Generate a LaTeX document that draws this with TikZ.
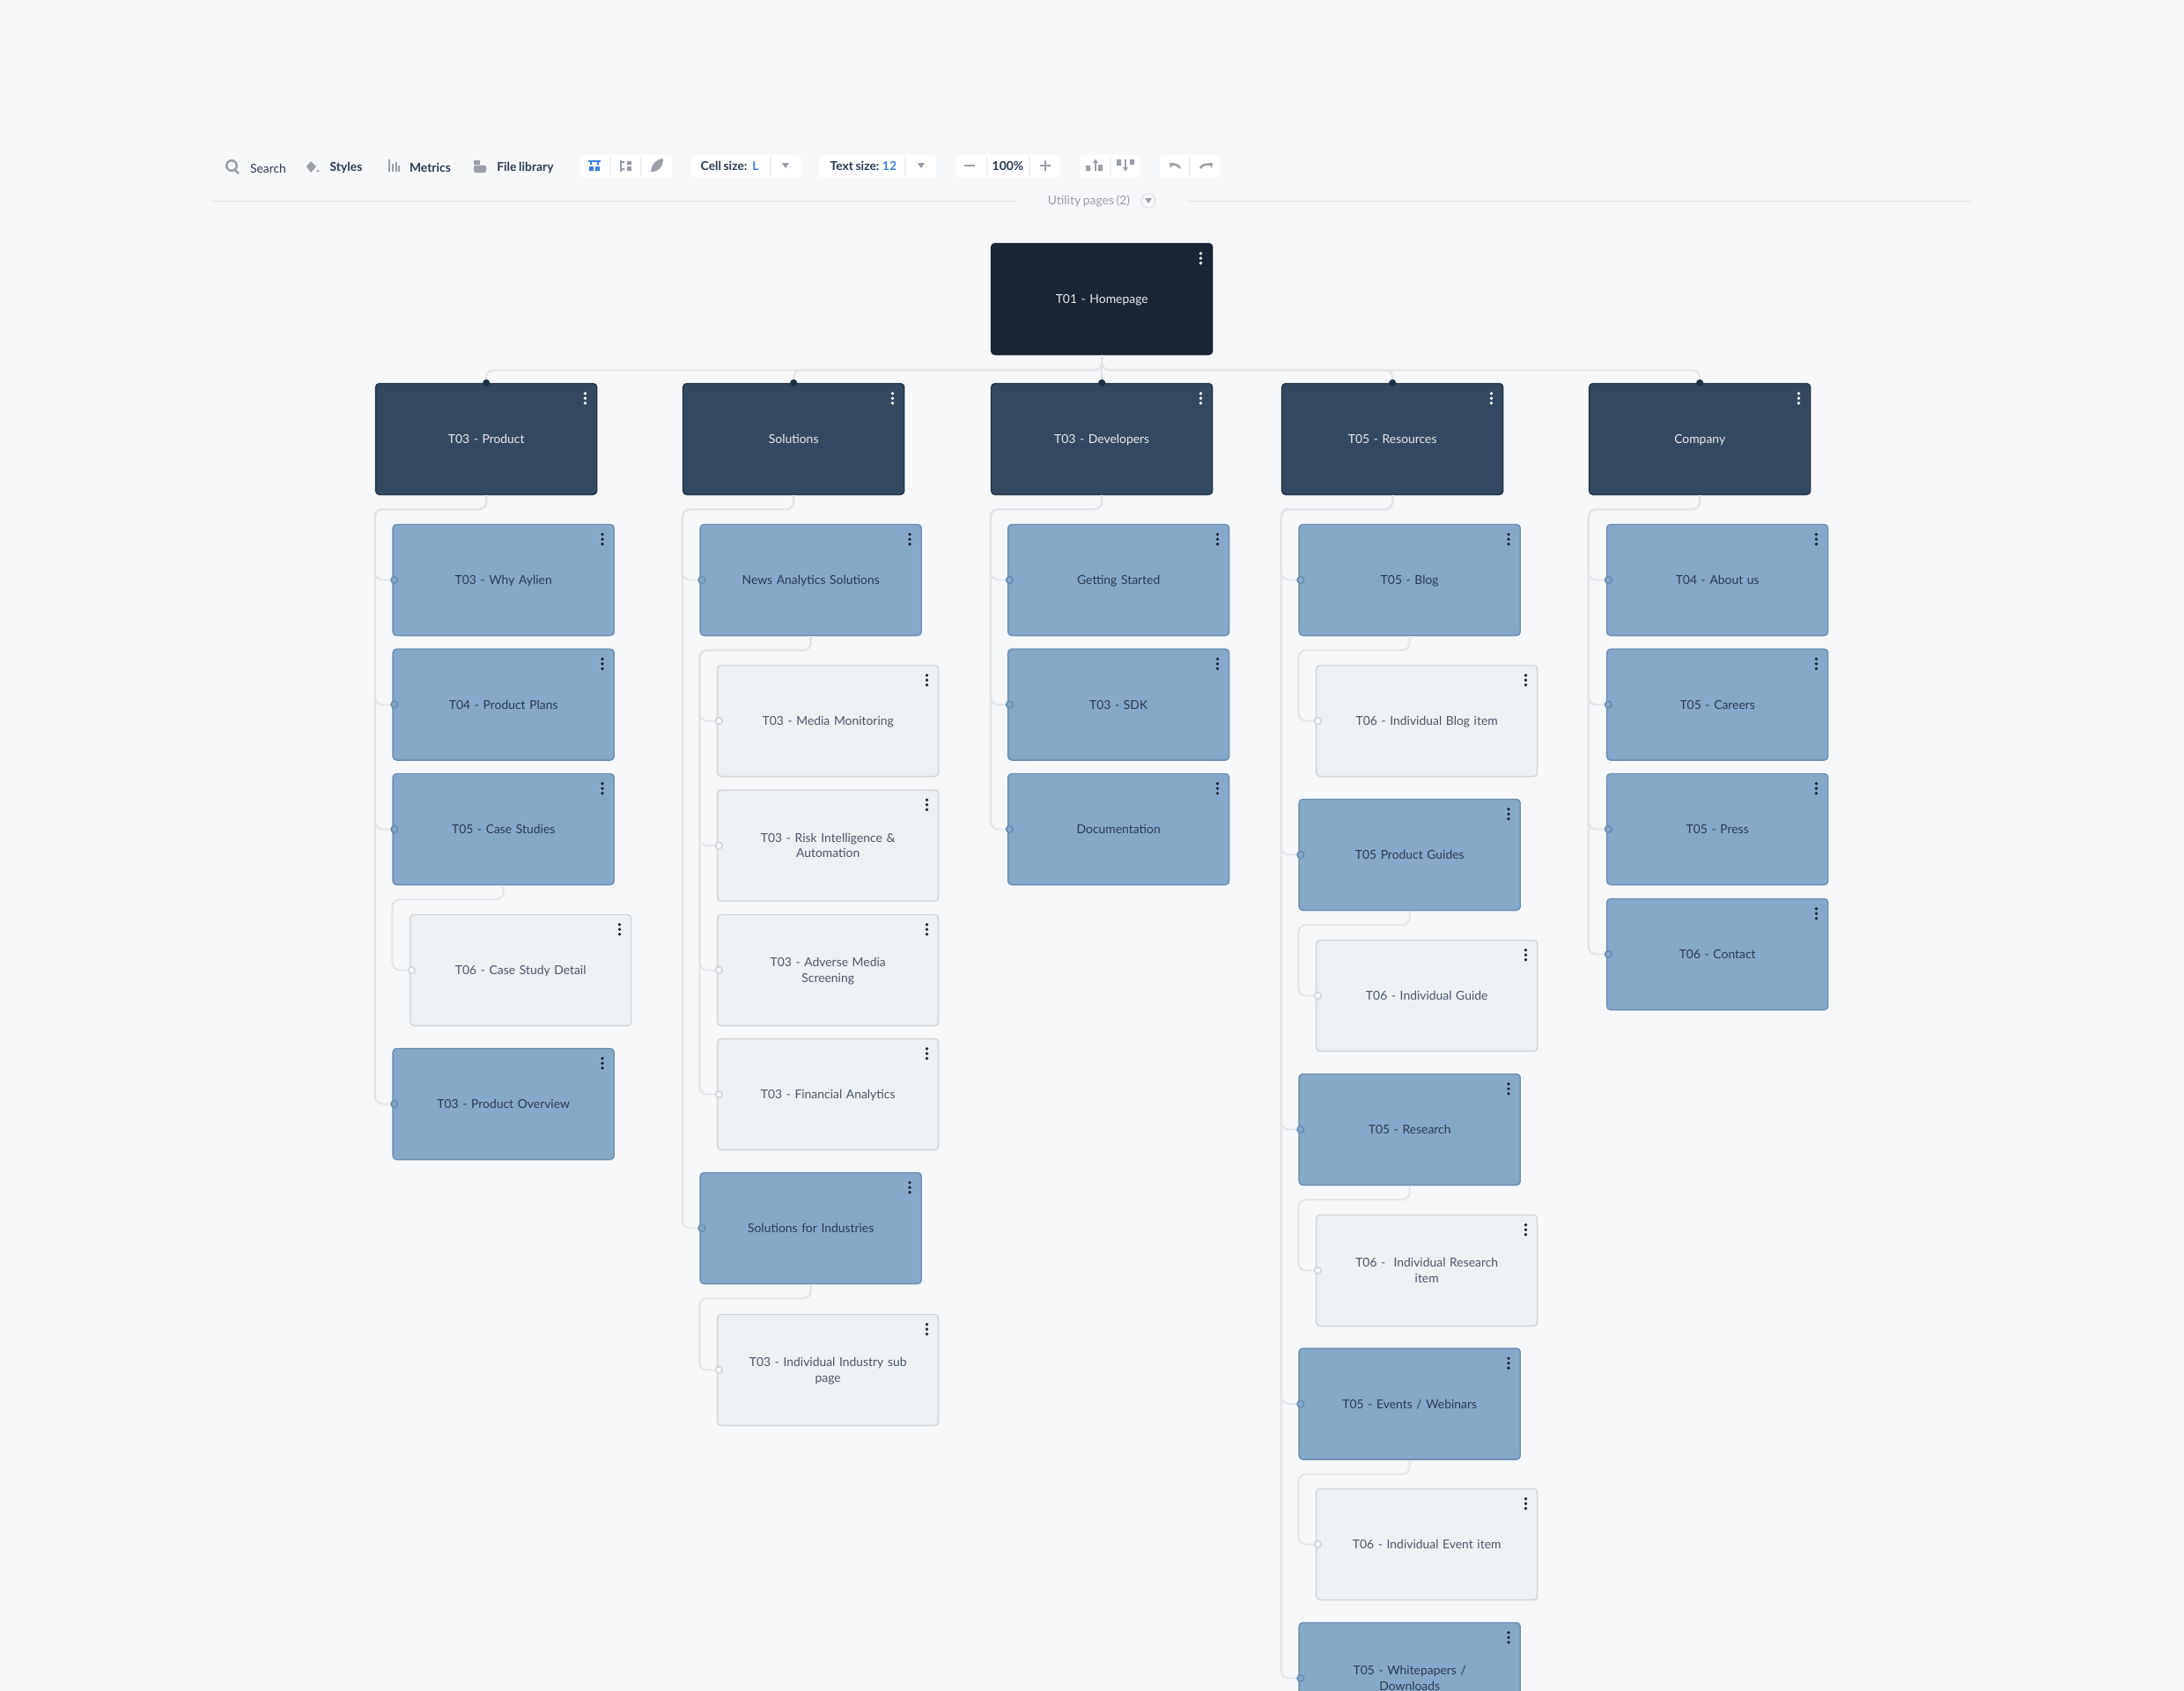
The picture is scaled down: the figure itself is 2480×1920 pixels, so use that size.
\documentclass[tikz,border=0pt]{standalone}
\usepackage{fontspec}
\setmainfont[WordSpace=0.75]{Lato}
\definecolor{bgpage}{HTML}{F7F8FA}
\definecolor{rootfill}{HTML}{1A2534}
\definecolor{darkfill}{HTML}{34495F}
\definecolor{darkline}{HTML}{1F3347}
\definecolor{bluefill}{HTML}{88A8C9}
\definecolor{blueline}{HTML}{6A8DB2}
\definecolor{palefill}{HTML}{EEF1F3}
\definecolor{paleline}{HTML}{D2D6D9}
\definecolor{linkgrey}{HTML}{E3E5E8}
\definecolor{inkdark}{HTML}{2A3A4E}
\definecolor{inkgrey}{HTML}{9A9EA6}
\definecolor{toolblue}{HTML}{3F7FE0}
\newcommand{\cardstrut}{\rule[-1pt]{0pt}{4.85pt}}
\tikzset{
  card/.style={draw,rounded corners=1.2pt,line width=.4pt,minimum width=2.51cm,minimum height=1.26cm,
    align=center,text width=1.95cm,font=\fontsize{3.95}{4.9}\selectfont,inner sep=0pt,
    execute at begin node=\cardstrut,execute at end node=\cardstrut},
  root/.style={card,fill=rootfill,draw=rootfill,text=white!90!rootfill},
  sect/.style={card,fill=darkfill,draw=darkline,text=white!88!darkfill},
  page/.style={card,fill=bluefill,draw=blueline,text=inkdark},
  sub/.style={card,fill=palefill,draw=paleline,text=inkdark!85!white},
  link/.style={draw=linkgrey,line width=.55pt,rounded corners=2.4pt},
  tool/.style={font=\fontsize{3.95}{5}\selectfont,inner sep=0pt,text=inkdark},
  toolb/.style={tool,font=\fontsize{3.95}{5}\selectfont\bfseries},
  group/.style={fill=white,rounded corners=1pt,draw=none},
  icon/.style={fill=inkgrey,draw=none},
}
\begin{document}
\begin{tikzpicture}[x=0.01cm,y=-0.01cm]
  \fill[bgpage] (0,0) rectangle (2480,1920);
  \useasboundingbox (0,0) rectangle (2480,1920);
  \clip (0,0) rectangle (2480,1920);

  % toolbar
  \foreach \xa/\xb in {658/763,785/910,930/1063,1085/1203,1226/1295,1317/1386}
    \fill[group] (\xa,176) rectangle (\xb,202);
  \foreach \xa in {693,728,875,1028,1121,1169,1261,1351}
    \draw[linkgrey!60!white,line width=.3pt] (\xa,178) -- (\xa,200);
  \draw[linkgrey,line width=.5pt] (239,228.5) -- (1154,228.5);
  \draw[linkgrey,line width=.5pt] (1347,228.5) -- (2240,228.5);

  \node[tool] (search) at (304.5,191) {Search};
  \node[toolb] (styles) at (393,190) {Styles};
  \node[toolb] (metrics) at (488.5,190) {Metrics};
  \node[toolb] (files) at (596.5,190) {File library};
  \node[toolb,anchor=west] (cellsize) at (795,188) {Cell size:};
  \node[toolb,text=toolblue] (cellval) at (858,188) {L};
  \node[toolb,anchor=west] (textsize) at (942,188) {Text size:};
  \node[toolb,text=toolblue] (textval) at (1010,188) {12};
  \node[toolb] (zoomval) at (1144.5,188) {100\%};
  \node[tool,text=inkgrey] (utility) at (1236.5,228) {Utility pages (2)};

  % left icons
  \draw[inkgrey,line width=.7pt] (263,188) circle (5.8) (267,193) -- (271,197);
  \fill[icon] (348,189) -- (353,183) -- (359,189) -- (353,196) -- cycle;
  \fill[icon] (361,194) circle (1.5);
  \foreach \xa/\h in {441/14,445/9,449/11,452/7}
    \fill[icon] (\xa,195-\h) rectangle ++(1.8,\h);
  \fill[icon] (538,182) rectangle (545,187);
  \fill[icon,rounded corners=.5pt] (538,187.5) rectangle (552,196);

  % view icons
  \fill[toolblue] (668,182) rectangle (682,184);
  \fill[toolblue] (670,184) rectangle (672,187) (678,184) rectangle (680,187);
  \fill[toolblue] (669,189) rectangle (674,194) (676,189) rectangle (681,194);
  \fill[icon] (704,182) rectangle (706,195) (704,183) rectangle (709,185) (704,191) rectangle (709,193);
  \fill[icon] (712,183) rectangle (717,187) (712,189) rectangle (717,194);
  \fill[icon] (739,195) .. controls (740,186) and (745,181) .. (753,180) .. controls (753,190) and (748,195) .. (739,195);

  % carets
  \foreach \xa/\ya in {892/188,1046/188,1304/228}
    \fill[icon] (\xa-4,\ya-3) -- (\xa+4,\ya-3) -- (\xa,\ya+3) -- cycle;
  \draw[linkgrey,line width=.4pt] (1304,228) circle (8);

  % zoom and arrange
  \draw[inkgrey,line width=.6pt] (1095,188) -- (1107,188);
  \draw[inkgrey,line width=.4pt] (1181,188) -- (1193,188) (1187,182) -- (1187,194);
  \fill[icon] (1233,188) rectangle (1238,194) (1247,187) rectangle (1252,194);
  \draw[inkgrey,line width=.5pt] (1244,194) -- (1244,183);
  \fill[icon] (1241,185) -- (1244,180.5) -- (1247,185) -- cycle;
  \fill[icon] (1268,181) rectangle (1273,188) (1283,181) rectangle (1288,187);
  \draw[inkgrey,line width=.5pt] (1278,181) -- (1278,192);
  \fill[icon] (1275,190) -- (1278,194.5) -- (1281,190) -- cycle;

  % undo redo
  \draw[inkgrey,line width=.7pt] (1340,191) .. controls (1338,187) and (1334,186) .. (1330,187);
  \fill[icon] (1328,185) -- (1333,185) -- (1329,191) -- cycle;
  \draw[inkgrey,line width=.7pt] (1363,191) .. controls (1365,187) and (1369,186) .. (1374,187);
  \fill[icon] (1377,185) -- (1372,185) -- (1376,191) -- cycle;

  % cards
  \begin{scope}[shift={(0.2,0.5)}]
  \node[root] (home) at (1251,339) {T01 - Homepage};

  \node[sect] (product) at (552,498) {T03 - Product};
  \node[sect] (solutions) at (901,498) {Solutions};
  \node[sect] (developers) at (1251,498) {T03 - Developers};
  \node[sect] (resources) at (1581,498) {T05 - Resources};
  \node[sect] (company) at (1930,498) {Company};

  \node[page] (why) at (571.5,658) {T03 - Why Aylien};
  \node[page] (plans) at (571.5,799.5) {T04 - Product Plans};
  \node[page] (cases) at (571.5,941) {T05 - Case Studies};
  \node[sub] (casedetail) at (591,1101) {T06 - Case Study Detail};
  \node[page] (overview) at (571.5,1253) {T03 - Product Overview};

  \node[page] (news) at (920.5,658) {News Analytics Solutions};
  \node[sub] (media) at (940,818) {T03 - Media Monitoring};
  \node[sub] (risk) at (940,959.5) {T03 - Risk Intelligence \&\\Automation};
  \node[sub] (adverse) at (940,1101) {T03 - Adverse Media\\Screening};
  \node[sub] (financial) at (940,1242) {T03 - Financial Analytics};
  \node[page] (industries) at (920.5,1394) {Solutions for Industries};
  \node[sub] (industry) at (940,1555) {T03 - Individual Industry sub\\page};

  \node[page] (started) at (1270,658) {Getting Started};
  \node[page] (sdk) at (1270,799.5) {T03 - SDK};
  \node[page] (docs) at (1270,941) {Documentation};

  \node[page] (blog) at (1600.5,658) {T05 - Blog};
  \node[sub] (blogitem) at (1620,818) {T06 - Individual Blog item};
  \node[page] (guides) at (1600.5,970) {T05 Product Guides};
  \node[sub] (guideitem) at (1620,1130) {T06 - Individual Guide};
  \node[page] (research) at (1600.5,1282) {T05 - Research};
  \node[sub] (researchitem) at (1620,1442) {T06 -\ \ Individual Research\\item};
  \node[page] (events) at (1600.5,1593.5) {T05 - Events / Webinars};
  \node[sub] (eventitem) at (1620,1753) {T06 - Individual Event item};
  \node[page] (papers) at (1600.5,1905) {T05 - Whitepapers /\\Downloads};

  \node[page] (about) at (1950,658) {T04 - About us};
  \node[page] (careers) at (1950,799.5) {T05 - Careers};
  \node[page] (press) at (1950,941) {T05 - Press};
  \node[page] (contact) at (1950,1083) {T06 - Contact};
  \end{scope}

  % connectors
  \foreach \c in {product,solutions,developers,resources,company}
    \draw[link] (home.south) -- ++(0,17) -| (\c.north);
  \foreach \p/\c in {product/why,product/plans,product/cases,product/overview,cases/casedetail,
      solutions/news,solutions/industries,news/media,news/risk,news/adverse,news/financial,industries/industry,
      developers/started,developers/sdk,developers/docs,
      resources/blog,resources/guides,resources/research,resources/events,resources/papers,
      blog/blogitem,guides/guideitem,research/researchitem,events/eventitem,
      company/about,company/careers,company/press,company/contact}
    \draw[link] (\p.south) -- ++(0,16) -| (\c.west -| \p.west) -- (\c.west);

  % ports
  \foreach \c in {product,solutions,developers,resources,company}
    \filldraw[fill=darkline,draw=darkline,line width=.3pt] (\c.north) circle (3.5);
  \foreach \c in {why,plans,cases,overview,news,industries,started,sdk,docs,blog,guides,research,events,papers,about,careers,press,contact}
    \filldraw[fill=bluefill,draw=blueline,line width=.45pt] ([xshift=.7]\c.west) circle (3.8);
  \foreach \c in {casedetail,media,risk,adverse,financial,industry,blogitem,guideitem,researchitem,eventitem}
    \filldraw[fill=bgpage,draw=paleline,line width=.45pt] ([xshift=.7]\c.west) circle (3.8);

  % menu dots
  \foreach \n in {home,product,solutions,developers,resources,company}
    \foreach \dy in {12,17.5,23}
      \fill[white] ([shift={(-14,\dy)}]\n.north east) circle (1.9);
  \foreach \n in {why,plans,cases,overview,news,industries,started,sdk,docs,blog,guides,research,events,papers,about,careers,press,contact,casedetail,media,risk,adverse,financial,industry,blogitem,guideitem,researchitem,eventitem}
    \foreach \dy in {12,17.5,23}
      \fill[rootfill] ([shift={(-14,\dy)}]\n.north east) circle (1.9);
\end{tikzpicture}
\end{document}
